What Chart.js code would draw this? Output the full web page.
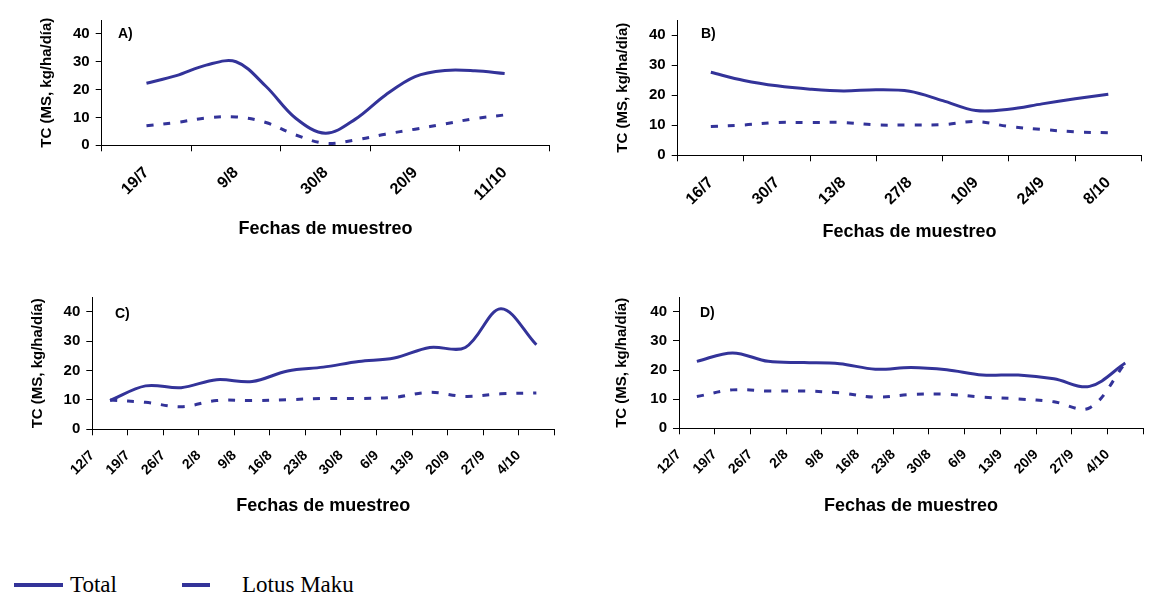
<!DOCTYPE html>
<html>
<head>
<meta charset="utf-8">
<script src="https://cdn.jsdelivr.net/npm/chart.js@4.4.1/dist/chart.umd.min.js"></script>
<style>
body { margin: 0; width: 1151px; height: 595px; overflow: hidden; background: #fff; position: relative; }
canvas { position: absolute; }
.leg { position: absolute; font-family: "Liberation Serif", "Times New Roman", serif; font-size: 23px; line-height: 23px; color: #000; white-space: nowrap; }
.swatch { position: absolute; height: 4px; background: #333399; }
</style>
</head>
<body>
<canvas id="chartA" width="575" height="255" style="left:0px;top:0px"></canvas>
<canvas id="chartB" width="592" height="255" style="left:575px;top:0px"></canvas>
<canvas id="chartC" width="578" height="255" style="left:0px;top:268px"></canvas>
<canvas id="chartD" width="592" height="255" style="left:575px;top:268px"></canvas>

<div class="swatch" style="left:14px;top:583px;width:49px"></div>
<div class="leg" style="left:70px;top:573px">Total</div>
<div class="swatch" style="left:182px;top:583px;width:28px"></div>
<div class="leg" style="left:242px;top:573px">Lotus Maku</div>

<script>
// sampling dates (weekly) and tick labels
const datesA = ['19/7', '26/7', '2/8', '9/8', '16/8', '23/8', '30/8', '6/9', '13/9', '20/9', '27/9', '4/10', '11/10'];
const datesB = ['16/7', '23/7', '30/7', '6/8', '13/8', '20/8', '27/8', '3/9', '10/9', '17/9', '24/9', '1/10', '8/10'];
const datesCD = ['12/7', '19/7', '26/7', '2/8', '9/8', '16/8', '23/8', '30/8', '6/9', '13/9', '20/9', '27/9', '4/10'];

const ticksA = ['19/7', '9/8', '30/8', '20/9', '11/10'];
const ticksB = ['16/7', '30/7', '13/8', '27/8', '10/9', '24/9', '8/10'];
const ticksCD = datesCD;

// TC (MS, kg/ha/día)
const totalA = [22.3, 25.0, 28.8, 30.0, 21.2, 9.7, 4.3, 9.4, 18.0, 24.7, 26.9, 26.8, 25.8];
const lotusA = [7.0, 8.2, 9.8, 10.2, 8.2, 3.7, 0.7, 1.9, 4.0, 5.8, 7.7, 9.6, 10.9];

const totalB = [27.6, 24.9, 23.1, 22.0, 21.4, 21.8, 21.3, 18.2, 14.9, 15.3, 17.1, 18.8, 20.3];
const lotusB = [9.6, 10.1, 10.9, 10.9, 10.9, 10.1, 10.1, 10.2, 11.2, 9.6, 8.6, 7.8, 7.5];

const totalC = [9.8, 14.8, 14.2, 16.9, 16.3, 19.9, 21.2, 23.1, 24.3, 27.9, 27.9, 41.1, 28.8];
const lotusC = [10.0, 9.2, 7.7, 9.8, 9.8, 10.1, 10.5, 10.5, 10.9, 12.6, 11.2, 12.1, 12.4];

const totalD = [23.0, 25.9, 23.0, 22.6, 22.2, 20.3, 20.9, 20.1, 18.3, 18.3, 17.0, 14.4, 22.4];
const lotusD = [10.9, 13.2, 12.8, 12.8, 12.2, 10.7, 11.6, 11.7, 10.7, 10.1, 9.1, 7.0, 22.4];

const yTitle = 'TC (MS, kg/ha/día)';
const xTitle = 'Fechas de muestreo';
const lineColor = '#333399';
const fontFamily = '"Liberation Sans", Arial, sans-serif';

Chart.defaults.font.family = fontFamily;
Chart.defaults.color = '#000';

function dayOf(s) {
    const [d, m] = s.split('/').map(Number);
    return Date.UTC(2005, m - 1, d) / 864e5;
}

function buildXTicks(labels, step, shift) {
    const min = dayOf(labels[0]) - step / 2;
    const list = [];
    for (let j = 0; j <= labels.length; j++) {
        list.push({ value: min + j * step, lab: '', mark: true });
    }
    labels.forEach((t) => {
        const v = dayOf(t) + shift * step;
        const hit = list.find((k) => Math.abs(k.value - v) < 1e-6);
        if (hit) hit.lab = t;
        else list.push({ value: v, lab: t, mark: false });
    });
    list.sort((a, b) => a.value - b.value);
    return list;
}

const letterPlugin = {
    id: 'panelLetter',
    afterDraw(chart, args, opts) {
        const ctx = chart.ctx;
        ctx.save();
        ctx.font = 'bold 14px ' + fontFamily;
        ctx.fillStyle = '#000';
        ctx.textBaseline = 'middle';
        ctx.fillText(opts.text, opts.x, opts.y);
        ctx.restore();
    },
};

const panels = [
    { id: 'chartA', letter: 'A)', dates: datesA, ticks: ticksA, step: 21, shift: 0, total: totalA, lotus: lotusA,
      left: 0, top: 0, h: 255, w: 575, axisX: 101.7, plotTop: 20, plotBottom: 145.3, plotRight: 569.2,
      titleY: 229, yTitleX: 47, letterX: 118, letterY: 34, labelSize: 16 },
    { id: 'chartB', letter: 'B)', dates: datesB, ticks: ticksB, step: 14, shift: 0, total: totalB, lotus: lotusB,
      left: 575, top: 0, h: 255, w: 592, axisX: 677.7, plotTop: 20, plotBottom: 155.3, plotRight: 1160.7,
      titleY: 232, yTitleX: 623, letterX: 701, letterY: 34, labelSize: 16 },
    { id: 'chartC', letter: 'C)', dates: datesCD, ticks: ticksCD, step: 7, shift: -0.5, total: totalC, lotus: lotusC,
      left: 0, top: 268, h: 255, w: 578, axisX: 92.3, plotTop: 297.3, plotBottom: 429.3, plotRight: 571.6,
      titleY: 506, yTitleX: 38, letterX: 115, letterY: 314, labelSize: 14 },
    { id: 'chartD', letter: 'D)', dates: datesCD, ticks: ticksCD, step: 7, shift: -0.5, total: totalD, lotus: lotusD,
      left: 575, top: 268, h: 255, w: 592, axisX: 679, plotTop: 297.3, plotBottom: 428.3, plotRight: 1155.7,
      titleY: 506, yTitleX: 622, letterX: 700, letterY: 313, labelSize: 14 },
];

panels.forEach((p) => {
    const xTicks = buildXTicks(p.ticks, p.step, p.shift);
    const xMin = dayOf(p.ticks[0]) - p.step / 2;
    const xMax = dayOf(p.ticks[p.ticks.length - 1]) + p.step / 2;
    const xTitleSize = 18;
    const xHeight = p.titleY + xTitleSize * 0.6 - p.plotBottom;
    const padBottom = p.top + p.h - p.plotBottom - xHeight;

    new Chart(document.getElementById(p.id), {
        type: 'line',
        data: {
            datasets: [
                {
                    label: 'Total',
                    data: p.dates.map((d, i) => ({ x: dayOf(d), y: p.total[i] })),
                    borderColor: lineColor,
                    borderWidth: 3,
                    pointRadius: 0,
                    tension: 0.35,
                },
                {
                    label: 'Lotus Maku',
                    data: p.dates.map((d, i) => ({ x: dayOf(d), y: p.lotus[i] })),
                    borderColor: lineColor,
                    borderWidth: 3,
                    borderDash: [7, 10],
                    pointRadius: 0,
                    tension: 0.35,
                },
            ],
        },
        options: {
            responsive: false,
            animation: false,
            events: [],
            layout: {
                padding: {
                    left: 0,
                    top: p.plotTop - p.top,
                    right: p.left + p.w - p.plotRight,
                    bottom: padBottom,
                },
            },
            plugins: {
                legend: { display: false },
                tooltip: { enabled: false },
                panelLetter: { text: p.letter, x: p.letterX - p.left, y: p.letterY - p.top },
            },
            scales: {
                x: {
                    type: 'linear',
                    min: xMin,
                    max: xMax,
                    afterBuildTicks: (scale) => {
                        scale.ticks = xTicks.map((t) => ({ ...t }));
                    },
                    afterFit: (scale) => {
                        scale.height = xHeight;
                    },
                    ticks: {
                        autoSkip: false,
                        minRotation: 45,
                        maxRotation: 45,
                        padding: 12,
                        color: '#000',
                        font: { size: p.labelSize, weight: 'bold' },
                        callback: (v, i, t) => t[i].lab,
                    },
                    grid: {
                        drawOnChartArea: false,
                        drawTicks: true,
                        tickLength: 6,
                        tickColor: (c) => (c.tick && c.tick.mark ? '#000' : 'rgba(0,0,0,0)'),
                    },
                    border: { display: true, color: '#000', width: 1 },
                    title: {
                        display: true,
                        text: xTitle,
                        color: '#000',
                        font: { size: xTitleSize, weight: 'bold' },
                        padding: 0,
                    },
                },
                y: {
                    min: 0,
                    max: 45,
                    afterFit: (scale) => {
                        scale.width = p.axisX - p.left;
                    },
                    ticks: {
                        stepSize: 5,
                        padding: 6,
                        color: '#000',
                        font: { size: 15, weight: 'bold' },
                        callback: (v) => (v % 10 === 0 && v <= 40 ? v : ''),
                    },
                    grid: {
                        drawOnChartArea: false,
                        drawTicks: true,
                        tickLength: 6,
                        tickColor: '#000',
                    },
                    border: { display: true, color: '#000', width: 1 },
                    title: {
                        display: true,
                        text: yTitle,
                        color: '#000',
                        font: { size: 15, weight: 'bold' },
                        padding: { top: p.yTitleX - p.left - 9, bottom: 0 },
                    },
                },
            },
        },
        plugins: [letterPlugin],
    });
});
</script>
</body>
</html>
